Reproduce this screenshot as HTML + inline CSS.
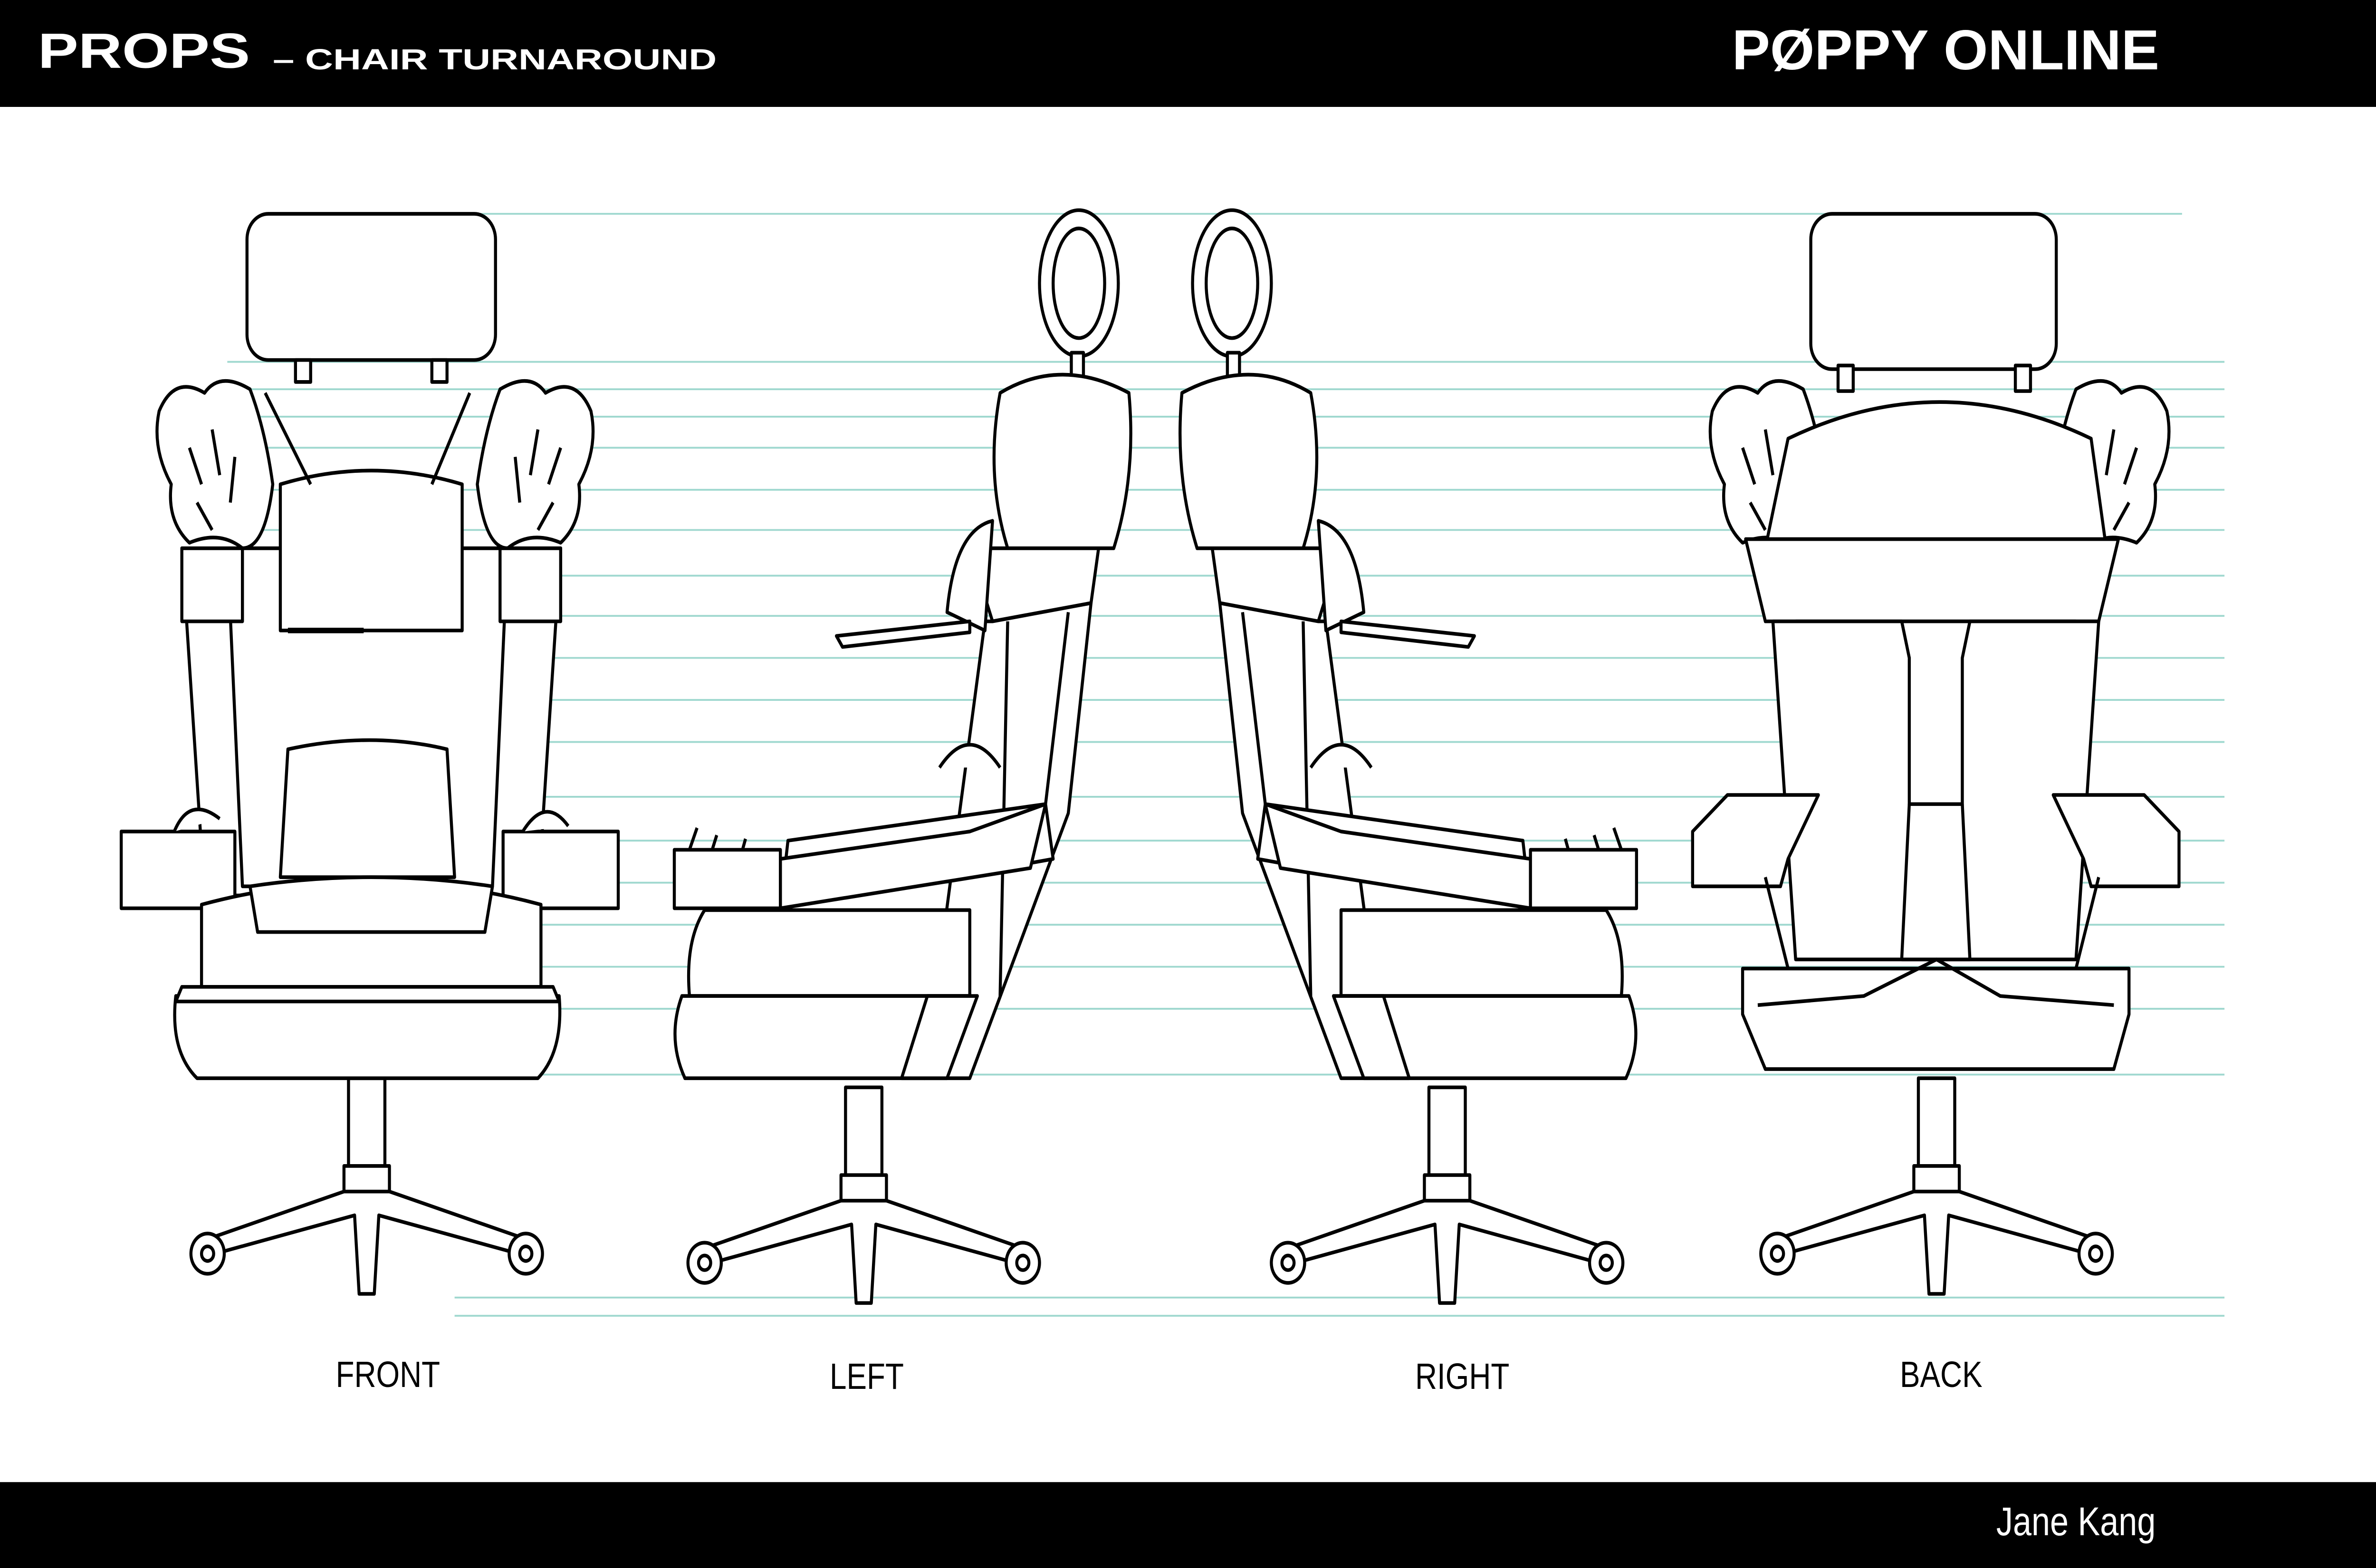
<!DOCTYPE html>
<html><head><meta charset="utf-8"><style>
html,body{margin:0;padding:0;background:#fff;width:100vw;height:100vh;overflow:hidden;}
svg{display:block;width:100vw;height:100vh;}
</style></head><body>
<svg viewBox="0 0 1568 858" preserveAspectRatio="none" xmlns="http://www.w3.org/2000/svg">
<rect width="1568" height="858" fill="#fff"/>
<g stroke="#9fd8cf" stroke-width="1">
<line x1="300" y1="117" x2="1440" y2="117"/>
<line x1="150" y1="198" x2="1468" y2="198"/>
<line x1="150" y1="213" x2="1468" y2="213"/>
<line x1="150" y1="228" x2="1468" y2="228"/>
<line x1="150" y1="245" x2="1468" y2="245"/>
<line x1="150" y1="268" x2="1468" y2="268"/>
<line x1="150" y1="290" x2="1468" y2="290"/>
<line x1="150" y1="315" x2="1468" y2="315"/>
<line x1="150" y1="337" x2="1468" y2="337"/>
<line x1="150" y1="360" x2="1468" y2="360"/>
<line x1="150" y1="383" x2="1468" y2="383"/>
<line x1="150" y1="406" x2="1468" y2="406"/>
<line x1="150" y1="436" x2="1468" y2="436"/>
<line x1="150" y1="460" x2="1468" y2="460"/>
<line x1="150" y1="483" x2="1468" y2="483"/>
<line x1="150" y1="506" x2="1468" y2="506"/>
<line x1="150" y1="529" x2="1468" y2="529"/>
<line x1="150" y1="552" x2="1468" y2="552"/>
<line x1="150" y1="588" x2="1468" y2="588"/>
<line x1="300" y1="710" x2="1468" y2="710"/>
<line x1="300" y1="720" x2="1468" y2="720"/>
</g>

<defs>
<g id="base">
<rect x="-12" y="0" width="24" height="50" fill="#fff"/>
<rect x="-15" y="48" width="30" height="20" fill="#fff"/>
<path d="M-15 62 L-105 88 L-100 96 L-8 75 L-5 118 L5 118 L8 75 L100 96 L105 88 L15 62 Z" fill="#fff"/>
<circle cx="-105" cy="96" r="11" fill="#fff"/><circle cx="-105" cy="96" r="4" fill="#fff"/>
<circle cx="105" cy="96" r="11" fill="#fff"/><circle cx="105" cy="96" r="4" fill="#fff"/>
</g>
<g id="fur">
<path d="M0 20 Q10 0 30 10 Q40 -2 60 8 Q70 30 75 60 Q70 95 55 95 Q40 85 20 92 Q5 80 8 60 Q-5 40 0 20 Z" fill="#fff"/>
<path d="M20 40 l8 20 M35 30 l5 25 M50 45 l-3 25 M25 70 l10 15" fill="none"/>
</g>
</defs>

<g stroke="#000" stroke-width="2" fill="#fff" stroke-linejoin="round">
<use href="#base" transform="translate(242,590)"/>
<rect x="163" y="117" width="164" height="80" rx="14"/>
<rect x="195" y="197" width="10" height="12"/><rect x="285" y="197" width="10" height="12"/>
<use href="#fur" transform="translate(105,205)"/>
<use href="#fur" transform="translate(390,205) scale(-1,1)"/>
<path d="M120 300 L370 300 L355 490 L135 490 Z"/>
<path d="M150 300 L335 300 L325 485 L160 485 Z"/>
<path d="M190 410 Q245 400 295 410 L300 480 L185 480 Z"/>
<rect x="120" y="300" width="40" height="40"/><rect x="330" y="300" width="40" height="40"/>
<path d="M185 265 Q245 250 305 265 L305 345 L185 345 Z"/>
<path d="M175 215 L205 265 M310 215 L285 265" fill="none"/>
<path d="M190 345 L240 345" fill="none" stroke-width="3"/>
<rect x="80" y="455" width="75" height="42"/>
<rect x="332" y="455" width="76" height="42"/>
<path d="M115 455 Q125 435 145 448" fill="#fff"/>
<path d="M345 455 Q360 435 375 452" fill="#fff"/>
<path d="M133 495 Q245 470 357 495 L357 540 L133 540 Z"/>
<path d="M165 485 Q245 475 325 485 L320 510 L170 510 Z"/>
<path d="M116 545 L369 545 Q372 575 355 590 L130 590 Q112 575 116 545 Z"/>
<path d="M120 540 L365 540 L369 548 L116 548 Z"/>

<g id="side">
<use href="#base" transform="translate(570,595)"/>
<ellipse cx="712" cy="155" rx="26" ry="40"/>
<ellipse cx="712" cy="155" rx="17" ry="30"/>
<rect x="707" y="193" width="8" height="18"/>
<path d="M660 215 Q700 195 745 215 Q750 260 735 300 L665 300 Q650 260 660 215 Z"/>
<path d="M640 300 L725 300 L720 330 L655 340 Z"/>
<path d="M655 340 L720 330 L705 445 L640 590 L610 590 L650 340 Z" fill="#fff"/>
<path d="M665 340 L660 545 M705 335 L690 440" fill="none"/>
<path d="M620 420 Q640 395 660 420" fill="#fff"/>
<path d="M625 335 Q630 290 655 285 L650 345 Z"/>
<path d="M552 348 L640 340 L640 346 L556 354 Z"/>
<path d="M520 460 L690 440 L695 470 L515 497 Z"/>
<path d="M515 470 L640 455 L690 440 L680 475 L515 497 Z"/>
<rect x="445" y="465" width="70" height="32"/>
<path d="M455 465 l5 -12 M470 465 l3 -8 M490 465 l2 -6" fill="none"/>
<path d="M465 498 L640 498 L640 545 L455 545 Q452 515 465 498 Z"/>
<path d="M450 545 L640 545 L610 590 L452 590 Q440 568 450 545 Z"/>
<path d="M612 545 L640 545 L645 545 L625 590 L595 590 Z" fill="#fff"/>
</g>

<use href="#side" transform="translate(1525,0) scale(-1,1)"/>

<use href="#base" transform="translate(1278,590)"/>
<rect x="1195" y="117" width="162" height="85" rx="14"/>
<rect x="1213" y="200" width="10" height="14"/><rect x="1330" y="200" width="10" height="14"/>
<use href="#fur" transform="translate(1130,205)"/>
<use href="#fur" transform="translate(1430,205) scale(-1,1)"/>
<path d="M1180 240 Q1280 200 1380 240 L1390 300 L1165 300 Z"/>
<path d="M1152 295 L1398 295 L1385 340 L1165 340 Z"/>
<path d="M1170 340 L1385 340 L1370 525 L1185 525 Z"/>
<path d="M1185 340 L1255 340 L1260 360 L1260 420 L1260 525 M1370 340 L1300 340 L1295 360 L1295 525" fill="none"/>
<path d="M1260 440 L1295 440 L1300 525 L1255 525 Z"/>
<path d="M1117 455 L1140 435 L1200 435 L1180 470 L1175 485 L1117 485 Z"/>
<path d="M1438 455 L1415 435 L1355 435 L1375 470 L1380 485 L1438 485 Z"/>
<path d="M1165 480 L1180 530 M1385 480 L1370 530" fill="none"/>
<path d="M1150 530 L1405 530 L1405 555 L1395 585 L1165 585 L1150 555 Z"/>
<path d="M1160 550 L1230 545 L1278 525 L1320 545 L1395 550" fill="none"/>
</g>

<rect x="0" y="0" width="1568" height="58.5" fill="#000"/>
<rect x="0" y="811" width="1568" height="47" fill="#000"/>
<g font-family="Liberation Sans, sans-serif" font-weight="bold" fill="#fff">
<text x="25" y="37" font-size="27" textLength="140" lengthAdjust="spacingAndGlyphs">PROPS</text>
<text x="180" y="38" font-size="16" textLength="293" lengthAdjust="spacingAndGlyphs">– CHAIR TURNAROUND</text>
<text x="1143" y="38" font-size="31" textLength="282" lengthAdjust="spacingAndGlyphs">PØPPY ONLINE</text>
</g>
<g font-family="Liberation Sans, sans-serif" font-size="20" fill="#000" text-anchor="middle">
<text x="256" y="759">FRONT</text>
<text x="572" y="760">LEFT</text>
<text x="965" y="760">RIGHT</text>
<text x="1281" y="759">BACK</text>
</g>
<text x="1370" y="840" font-family="Liberation Sans, sans-serif" font-size="22" fill="#fff" text-anchor="middle">Jane Kang</text>
</svg>
</body></html>
